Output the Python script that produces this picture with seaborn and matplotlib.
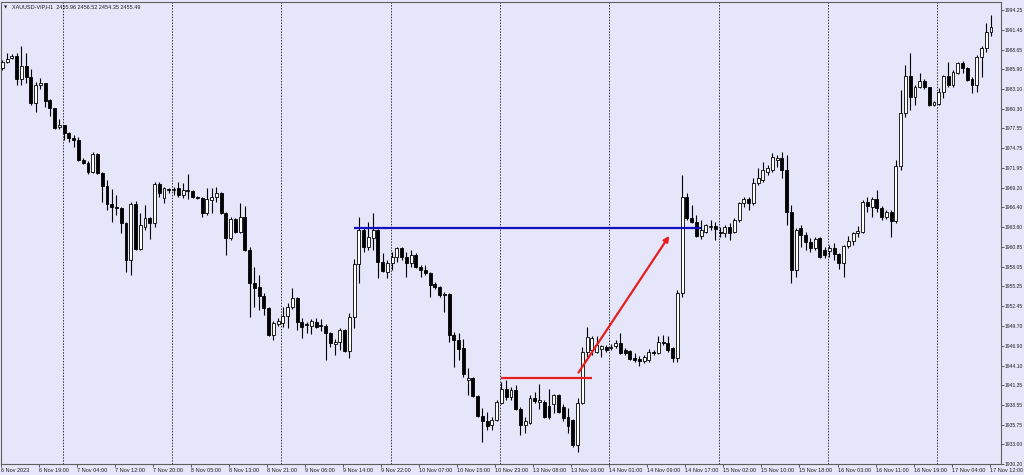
import pandas as pd
import matplotlib
matplotlib.use("Agg")
import matplotlib.pyplot as plt
import seaborn as sns

# XAUUSD H1 candles, 6 Nov 11:00 -> 17 Nov 12:00
opens = [
    1986.1, 1986.9, 1987.5, 1987.8, 1984.5, 1986.4, 1984.8, 1981.1, 1983.7, 1983.9,
    1981.6, 1980.4, 1977.8, 1978.0, 1976.9, 1976.2, 1975.9, 1973.1, 1972.7, 1971.4,
    1973.9, 1971.3, 1969.4, 1966.9, 1966.5, 1966.3, 1964.2, 1959.0, 1966.9, 1960.6,
    1963.7, 1964.9, 1964.2, 1969.7, 1967.7, 1969.0, 1968.9, 1969.1, 1968.2, 1968.9,
    1968.7, 1967.9, 1967.7, 1965.6, 1967.5, 1967.9, 1968.4, 1965.6, 1962.1, 1964.8,
    1963.0, 1965.1, 1960.4, 1955.8, 1955.2, 1953.9, 1952.2, 1948.4, 1950.0, 1950.1,
    1951.1, 1952.4, 1953.6, 1950.3, 1950.0, 1949.7, 1950.3, 1949.8, 1949.7, 1948.7,
    1947.2, 1947.4, 1949.1, 1946.2, 1951.0, 1958.4, 1963.2, 1960.8, 1962.1, 1963.2,
    1958.7, 1957.3, 1958.6, 1959.4, 1960.7, 1959.4, 1958.6, 1959.7, 1958.0, 1957.6,
    1957.2, 1955.6, 1955.2, 1954.2, 1954.2, 1948.4, 1947.7, 1946.6, 1942.1, 1942.4,
    1939.8, 1937.0, 1936.3, 1935.7, 1936.4, 1938.8, 1940.8, 1939.7, 1940.7, 1938.0,
    1935.7, 1936.0, 1939.5, 1939.0, 1939.0, 1938.4, 1938.6, 1940.0, 1938.3, 1936.9,
    1936.4, 1932.9, 1938.8, 1946.0, 1946.3, 1946.0, 1946.5, 1946.7, 1946.6, 1946.9,
    1947.3, 1946.3, 1946.2, 1945.2, 1945.0, 1944.8, 1944.9, 1946.0, 1945.9, 1947.4,
    1947.3, 1946.5, 1945.2, 1954.3, 1967.9, 1964.9, 1964.4, 1962.4, 1962.9, 1963.6,
    1963.8, 1962.9, 1962.8, 1963.6, 1962.9, 1964.6, 1967.0, 1967.6, 1967.0, 1969.9,
    1970.3, 1971.4, 1971.7, 1973.1, 1973.4, 1971.7, 1965.8, 1957.6, 1963.5, 1962.5,
    1961.5, 1960.7, 1962.1, 1960.4, 1960.3, 1960.7, 1959.9, 1958.6, 1961.0, 1961.7,
    1962.8, 1962.9, 1967.2, 1966.5, 1967.6, 1966.3, 1965.1, 1965.8, 1964.5, 1972.2,
    1979.7, 1984.9, 1982.0, 1983.4, 1984.2, 1983.4, 1980.9, 1981.0, 1982.7, 1984.9,
    1983.7, 1985.4, 1986.8, 1986.1, 1984.5, 1983.7, 1987.6, 1988.9, 1991.1,
]
closes = [
    1986.9, 1987.3, 1987.8, 1984.5, 1986.4, 1984.8, 1981.1, 1983.7, 1983.9, 1981.4,
    1980.4, 1977.6, 1978.0, 1976.9, 1976.2, 1975.9, 1973.1, 1972.7, 1971.4, 1973.9,
    1971.3, 1969.4, 1966.9, 1966.5, 1966.3, 1964.2, 1959.0, 1966.9, 1960.6, 1963.9,
    1964.9, 1964.2, 1969.7, 1968.4, 1969.1, 1968.9, 1969.0, 1968.2, 1968.9, 1968.7,
    1967.9, 1967.7, 1965.6, 1967.6, 1967.9, 1968.4, 1965.6, 1962.1, 1964.8, 1963.0,
    1965.1, 1960.4, 1955.8, 1955.0, 1953.9, 1952.2, 1948.4, 1950.1, 1950.4, 1951.1,
    1952.4, 1953.6, 1950.3, 1949.5, 1949.8, 1950.4, 1949.5, 1949.7, 1948.7, 1947.3,
    1947.4, 1949.1, 1946.2, 1951.0, 1958.4, 1963.2, 1960.8, 1962.2, 1963.2, 1958.7,
    1957.4, 1958.6, 1959.4, 1960.7, 1959.4, 1958.6, 1959.7, 1958.0, 1957.6, 1957.2,
    1955.5, 1955.2, 1954.0, 1954.0, 1948.4, 1947.7, 1946.5, 1942.9, 1942.4, 1939.8,
    1937.0, 1936.3, 1935.6, 1936.4, 1939.0, 1940.8, 1939.7, 1940.7, 1938.0, 1935.7,
    1936.2, 1939.5, 1939.1, 1939.3, 1936.9, 1936.9, 1940.0, 1937.6, 1936.7, 1935.5,
    1932.9, 1938.8, 1946.0, 1948.1, 1948.0, 1947.0, 1946.9, 1946.3, 1946.7, 1947.3,
    1945.9, 1945.9, 1945.0, 1944.9, 1944.8, 1945.3, 1946.0, 1945.9, 1947.4, 1947.3,
    1946.3, 1945.2, 1954.3, 1967.9, 1964.9, 1964.4, 1962.4, 1963.2, 1963.9, 1963.8,
    1963.4, 1962.8, 1963.6, 1962.8, 1964.6, 1967.0, 1967.6, 1967.0, 1969.9, 1970.6,
    1971.7, 1972.0, 1973.5, 1973.4, 1971.7, 1965.8, 1957.6, 1963.2, 1962.5, 1961.5,
    1960.7, 1962.0, 1959.4, 1959.7, 1960.7, 1959.9, 1958.6, 1961.0, 1961.7, 1962.8,
    1963.1, 1967.2, 1966.6, 1967.6, 1966.3, 1965.1, 1965.8, 1964.5, 1972.2, 1979.7,
    1984.9, 1982.0, 1983.4, 1984.2, 1983.4, 1980.9, 1981.3, 1982.7, 1984.9, 1983.7,
    1985.5, 1986.8, 1986.1, 1984.4, 1983.7, 1987.6, 1988.9, 1991.1, 1991.9,
]
highs = [
    1987.2, 1988.2, 1988.1, 1988.2, 1989.2, 1988.2, 1985.9, 1984.1, 1984.7, 1984.0,
    1981.7, 1980.5, 1978.9, 1978.1, 1977.0, 1976.6, 1976.3, 1973.4, 1973.0, 1974.2,
    1974.1, 1971.4, 1970.3, 1969.0, 1968.2, 1966.4, 1964.3, 1967.2, 1967.3, 1965.6,
    1966.8, 1965.1, 1970.0, 1970.0, 1969.3, 1969.2, 1969.3, 1970.0, 1969.9, 1971.1,
    1968.9, 1968.0, 1967.9, 1969.1, 1969.1, 1969.3, 1968.6, 1965.7, 1965.1, 1964.9,
    1967.0, 1966.6, 1960.8, 1958.0, 1956.9, 1954.3, 1952.4, 1950.4, 1950.8, 1952.4,
    1952.9, 1955.0, 1953.8, 1950.8, 1950.3, 1950.7, 1950.8, 1950.7, 1949.9, 1948.8,
    1947.9, 1949.4, 1949.3, 1951.5, 1959.1, 1965.1, 1963.7, 1964.4, 1965.6, 1963.3,
    1960.0, 1959.0, 1960.1, 1960.8, 1960.8, 1960.1, 1960.4, 1960.0, 1958.3, 1958.3,
    1957.3, 1955.9, 1955.3, 1954.5, 1954.3, 1948.8, 1948.7, 1947.9, 1943.8, 1942.5,
    1940.0, 1938.1, 1937.6, 1936.9, 1939.3, 1941.8, 1942.1, 1941.1, 1941.4, 1938.3,
    1936.9, 1940.0, 1940.4, 1941.5, 1939.3, 1940.8, 1940.1, 1940.1, 1938.7, 1938.1,
    1936.5, 1939.5, 1946.7, 1949.5, 1948.2, 1948.2, 1947.0, 1947.0, 1947.2, 1947.7,
    1948.7, 1946.6, 1946.3, 1945.9, 1945.5, 1945.6, 1946.5, 1946.3, 1948.2, 1948.4,
    1948.2, 1946.7, 1954.8, 1971.0, 1968.4, 1966.8, 1965.3, 1964.6, 1964.1, 1964.6,
    1964.4, 1963.7, 1963.9, 1964.2, 1964.9, 1967.2, 1967.9, 1967.9, 1970.6, 1972.0,
    1972.8, 1972.4, 1974.1, 1973.8, 1974.2, 1973.8, 1966.7, 1963.5, 1963.9, 1962.9,
    1962.1, 1962.2, 1962.2, 1960.8, 1961.1, 1961.4, 1960.0, 1961.1, 1962.4, 1962.9,
    1963.8, 1967.5, 1967.9, 1967.9, 1968.9, 1966.6, 1966.0, 1966.0, 1973.1, 1983.0,
    1986.5, 1988.2, 1983.7, 1985.4, 1984.5, 1983.4, 1981.4, 1983.3, 1985.1, 1986.9,
    1985.8, 1986.9, 1987.1, 1986.2, 1984.8, 1987.9, 1989.2, 1992.4, 1993.5,
]
lows = [
    1985.8, 1986.8, 1987.3, 1983.7, 1983.7, 1984.0, 1980.9, 1979.9, 1983.1, 1980.6,
    1979.3, 1977.5, 1977.5, 1975.9, 1975.6, 1974.9, 1973.0, 1972.5, 1971.1, 1971.3,
    1971.1, 1967.2, 1966.0, 1964.4, 1965.3, 1962.8, 1957.3, 1956.9, 1960.4, 1960.4,
    1963.2, 1962.0, 1963.7, 1967.9, 1967.0, 1968.4, 1968.2, 1967.9, 1967.7, 1967.6,
    1967.7, 1967.6, 1965.1, 1965.3, 1965.6, 1967.2, 1965.5, 1959.7, 1961.8, 1962.8,
    1962.8, 1960.3, 1951.0, 1952.4, 1951.9, 1951.2, 1948.3, 1947.7, 1949.7, 1949.6,
    1949.4, 1952.1, 1949.1, 1948.0, 1948.7, 1948.6, 1949.4, 1948.9, 1944.9, 1946.7,
    1945.6, 1946.3, 1946.0, 1945.2, 1949.4, 1955.8, 1960.1, 1960.4, 1960.4, 1956.5,
    1957.3, 1956.5, 1957.6, 1958.7, 1959.0, 1956.6, 1958.0, 1957.9, 1956.6, 1956.9,
    1953.8, 1954.9, 1953.8, 1951.7, 1947.4, 1943.9, 1944.9, 1942.5, 1939.9, 1939.7,
    1936.9, 1933.3, 1935.0, 1935.0, 1936.2, 1938.6, 1939.3, 1939.3, 1937.8, 1934.3,
    1934.6, 1935.9, 1938.8, 1937.9, 1936.7, 1936.6, 1937.4, 1937.4, 1936.2, 1934.6,
    1932.6, 1931.9, 1938.6, 1945.3, 1945.6, 1945.9, 1945.3, 1946.0, 1946.3, 1946.6,
    1945.7, 1945.6, 1944.9, 1944.6, 1944.0, 1944.5, 1944.6, 1945.6, 1945.7, 1947.0,
    1946.0, 1944.6, 1944.6, 1953.8, 1964.6, 1964.2, 1962.2, 1962.0, 1962.8, 1963.2,
    1961.8, 1962.2, 1962.2, 1961.8, 1962.8, 1964.4, 1966.5, 1966.0, 1966.7, 1969.6,
    1970.0, 1971.0, 1971.4, 1972.1, 1970.6, 1963.9, 1955.8, 1956.6, 1960.8, 1960.4,
    1960.1, 1960.4, 1959.3, 1959.3, 1959.4, 1959.0, 1957.7, 1956.6, 1960.7, 1961.1,
    1962.2, 1962.8, 1965.8, 1965.1, 1965.8, 1964.6, 1964.8, 1962.2, 1964.2, 1971.7,
    1979.2, 1980.1, 1980.9, 1983.2, 1983.1, 1980.7, 1980.7, 1980.9, 1981.8, 1983.4,
    1983.4, 1985.2, 1985.4, 1984.2, 1982.5, 1982.7, 1984.8, 1988.3, 1990.6,
]

time_labels = [
    "6 Nov 2023", "6 Nov 19:00", "7 Nov 04:00", "7 Nov 12:00", "7 Nov 20:00",
    "8 Nov 05:00", "8 Nov 13:00", "8 Nov 21:00", "9 Nov 06:00", "9 Nov 14:00",
    "9 Nov 22:00", "10 Nov 07:00", "10 Nov 15:00", "10 Nov 23:00", "13 Nov 08:00",
    "13 Nov 16:00", "14 Nov 01:00", "14 Nov 09:00", "14 Nov 17:00", "15 Nov 02:00",
    "15 Nov 10:00", "15 Nov 18:00", "16 Nov 03:00", "16 Nov 11:00", "16 Nov 19:00",
    "17 Nov 04:00", "17 Nov 12:00",
]
price_ticks = [
    1994.25, 1991.45, 1988.65, 1985.90, 1983.10, 1980.30, 1977.55, 1974.75,
    1971.95, 1969.20, 1966.40, 1963.60, 1960.85, 1958.05, 1955.25, 1952.45,
    1949.70, 1946.90, 1944.10, 1941.35, 1938.55, 1935.75, 1933.00, 1930.20,
]
header = "XAUUSD-VIP,H1  2455.96 2456.52 2454.35 2455.49"

# drawn objects: (bar index, price)
blue_level, blue_from, blue_to = 1963.5, 74, 147
red_level, red_from, red_to = 1942.3, 105, 124
arrow_from = (121.2, 1943.1)
arrow_to = (140.3, 1962.4)

# hourly bars, gold closed at 00:00 and on the weekend
hours = pd.date_range("2023-11-06 11:00", "2023-11-17 12:00", freq="h")
hours = hours[(hours.hour != 0) & (hours.dayofweek < 5)]
df = pd.DataFrame({"time": hours, "open": opens, "high": highs,
                   "low": lows, "close": closes})
df["x"] = range(len(df))
df["bull"] = df["close"] >= df["open"]

bg = "#E6E6FA"
sns.set_theme(style="white", rc={"axes.facecolor": bg, "figure.facecolor": bg})
plt.rcParams["font.family"] = ["Liberation Sans", "DejaVu Sans"]

fig = plt.figure(figsize=(10.24, 4.75), dpi=100)
ax = fig.add_axes([1 / 1024, 11 / 475, 1000 / 1024, 462 / 475])

# day separators
for x in df.loc[df["time"].dt.hour == 1, "x"]:
    ax.axvline(x - 0.3, color="#303030", lw=0.7, ls=(0, (1.5, 1.5)), zorder=1)

ax.vlines(df["x"], df["low"], df["high"], color="black", lw=0.8, zorder=2)
for bull, face in [(True, "white"), (False, "black")]:
    d = df[df["bull"] == bull]
    body = (d["close"] - d["open"]).abs().clip(lower=0.06)
    ax.bar(d["x"], body, bottom=d[["open", "close"]].min(axis=1), width=0.62,
           color=face, edgecolor="black", linewidth=0.6, zorder=3)

ax.hlines(blue_level, blue_from, blue_to, color="#1010C0", lw=1.6, zorder=4)
ax.hlines(red_level, red_from, red_to, color="#E81E1E", lw=1.6, zorder=4)
ax.annotate("", xy=arrow_to, xytext=arrow_from, zorder=5,
            arrowprops=dict(arrowstyle="-|>", color="#E81E1E", lw=1.6,
                            mutation_scale=8, shrinkA=0, shrinkB=0))

ax.set_xlim(-0.3, 210.1)
ax.set_ylim(1930.2, 1995.4)

ax.yaxis.tick_right()
ax.set_yticks(price_ticks)
ax.set_yticklabels([f"{v:.2f}" for v in price_ticks])
ax.set_xticks(df["x"].iloc[::8] - 0.3)
ax.set_xticklabels(time_labels, ha="left")
ax.tick_params(axis="both", labelsize=4, length=2, width=0.6, color="#404040",
               labelcolor="#202020", pad=1, direction="out")
ax.tick_params(axis="y", right=True, left=False, labelsize=3.6, pad=0.8)
ax.tick_params(axis="x", bottom=True)
for s in ax.spines.values():
    s.set_color("#606060")
    s.set_linewidth(0.8)

ax.text(0.003, 0.993, "\u25bc", transform=ax.transAxes, fontsize=3,
        va="top", ha="left", color="#202020", family="DejaVu Sans")
ax.text(0.011, 0.995, header, transform=ax.transAxes, fontsize=4,
        va="top", ha="left", color="#202020")

fig.savefig("out.png", dpi=100, facecolor=bg)
